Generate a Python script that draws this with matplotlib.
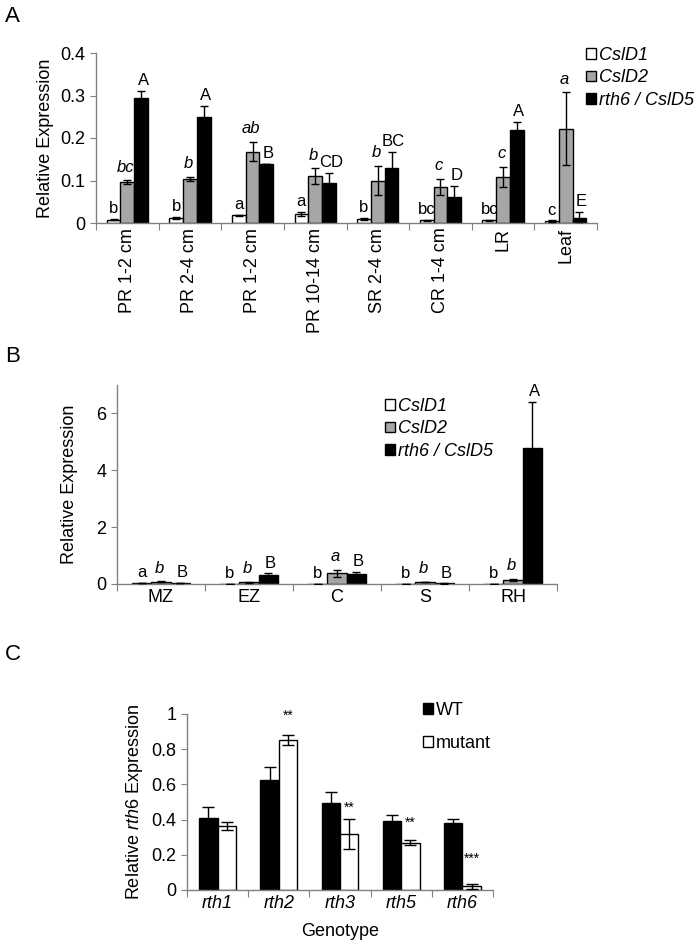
import matplotlib
matplotlib.use("Agg")
import matplotlib.pyplot as plt
import numpy as np
from matplotlib.patches import Patch

plt.rcParams['font.family'] = ['Liberation Sans', 'DejaVu Sans']
plt.rcParams['font.size'] = 13
plt.rcParams['mathtext.fontset'] = 'custom'
plt.rcParams['mathtext.rm'] = 'Liberation Sans'
plt.rcParams['mathtext.it'] = 'Liberation Sans:italic'

# panel A data
a_cats = ["PR 1-2 cm", "PR 2-4 cm", "PR 1-2 cm", "PR 10-14 cm", "SR 2-4 cm", "CR 1-4 cm", "LR", "Leaf"]
a_d1 = [0.008, 0.012, 0.018, 0.022, 0.010, 0.006, 0.006, 0.004]
a_d1_err = [0.002, 0.002, 0.001, 0.005, 0.002, 0.001, 0.002, 0.002]
a_d2 = [0.096, 0.104, 0.168, 0.110, 0.100, 0.085, 0.108, 0.222]
a_d2_err = [0.005, 0.005, 0.023, 0.019, 0.035, 0.019, 0.024, 0.086]
a_d5 = [0.295, 0.250, 0.140, 0.095, 0.130, 0.061, 0.218, 0.012]
a_d5_err = [0.015, 0.025, 0.0, 0.022, 0.038, 0.026, 0.019, 0.014]
a_d1_lbl = ["b", "b", "a", "a", "b", "bc", "bc", "c"]
a_d2_lbl = ["bc", "b", "ab", "b", "b", "c", "c", "a"]
a_d5_lbl = ["A", "A", "B", "CD", "BC", "D", "A", "E"]

# panel B data
b_cats = ["MZ", "EZ", "C", "S", "RH"]
b_d1 = [0.03, 0.01, 0.01, 0.01, 0.01]
b_d1_err = [0.005, 0.003, 0.003, 0.003, 0.003]
b_d2 = [0.08, 0.06, 0.37, 0.07, 0.14]
b_d2_err = [0.02, 0.01, 0.13, 0.01, 0.05]
b_d5 = [0.03, 0.30, 0.34, 0.02, 4.8]
b_d5_err = [0.01, 0.07, 0.09, 0.005, 1.6]
b_d1_lbl = ["a", "b", "b", "b", "b"]
b_d2_lbl = ["b", "b", "a", "b", "b"]
b_d5_lbl = ["B", "B", "B", "B", "A"]

# panel C data
c_cats = ["rth1", "rth2", "rth3", "rth5", "rth6"]
c_wt = [0.41, 0.625, 0.494, 0.39, 0.379]
c_wt_err = [0.063, 0.074, 0.063, 0.036, 0.026]
c_mut = [0.364, 0.852, 0.318, 0.269, 0.021]
c_mut_err = [0.022, 0.028, 0.087, 0.015, 0.015]
c_stars = ["", "**", "**", "**", "***"]
c_star_y = [0, 0.95, 0.43, 0.34, 0.14]

GRAY = '#a6a6a6'
AXC = '#808080'

fig = plt.figure(figsize=(6.97, 9.5), dpi=100)


def style_axes(ax, n, ylim, yticks, yfmt):
    for s in ['top', 'right']:
        ax.spines[s].set_visible(False)
    for s in ['left', 'bottom']:
        ax.spines[s].set_color(AXC)
        ax.spines[s].set_linewidth(1)
    ax.set_xlim(0, n)
    ax.set_ylim(*ylim)
    ax.set_yticks(yticks)
    ax.set_yticklabels([yfmt(v) for v in yticks])
    ax.set_xticks(np.arange(n + 1))
    ax.set_xticklabels([])
    ax.tick_params(axis='x', which='major', length=5, color=AXC, direction='out')
    ax.tick_params(axis='y', length=4, color=AXC, labelsize=13)
    ax.set_xticks(np.arange(n) + 0.5, minor=True)
    ax.tick_params(axis='x', which='minor', length=0, labelsize=13)


def bars3(ax, x, vals, errs, lbls, w, cap):
    colors = ['white', GRAY, 'black']
    styles = ['normal', 'italic', 'normal']
    offs = [(0, 2), (-1, 4), (1.5, 2)]
    for k in range(3):
        xs = x + (k - 1) * w
        ax.bar(xs, vals[k], w, color=colors[k], edgecolor='black', linewidth=1, zorder=2)
        ax.errorbar(xs, vals[k], yerr=errs[k], fmt='none', ecolor='black',
                    elinewidth=1, capsize=cap, capthick=1, zorder=3)
        for xi, v, e, t in zip(xs, vals[k], errs[k], lbls[k]):
            ax.annotate(t, (xi, v + e), xytext=offs[k], textcoords='offset points',
                        ha='center', va='bottom', fontsize=12, fontstyle=styles[k])


def legend3(anchor, labels, colors):
    handles = [Patch(facecolor=c, edgecolor='black', linewidth=1) for c in colors]
    leg = fig.legend(handles, labels, loc='upper left', bbox_to_anchor=anchor,
                     frameon=False, handlelength=0.55, handleheight=0.55,
                     handletextpad=0.15, labelspacing=0.3, borderpad=0, borderaxespad=0,
                     fontsize=13)
    for t in leg.get_texts():
        t.set_fontstyle('italic')
    return leg


# ---- A ----
axA = fig.add_axes([96 / 697, 1 - 223 / 950, 501 / 697, 170 / 950])
style_axes(axA, 8, (0, 0.4), [0, 0.1, 0.2, 0.3, 0.4], lambda v: '0' if v == 0 else f'{v:.1f}')
axA.set_xticklabels(a_cats, minor=True, rotation=90)
xa = np.arange(8) + 0.5
bars3(axA, xa, [a_d1, a_d2, a_d5], [a_d1_err, a_d2_err, a_d5_err],
      [a_d1_lbl, a_d2_lbl, a_d5_lbl], 0.22, 3)
axA.set_ylabel('Relative Expression', fontsize=13, labelpad=5)
legend3((586 / 697, 1 - 47 / 950), ['CslD1', 'CslD2', 'rth6 / CslD5'], ['white', GRAY, 'black'])

# ---- B ----
axB = fig.add_axes([117 / 697, 1 - 584 / 950, 440 / 697, 199 / 950])
style_axes(axB, 5, (0, 7), [0, 2, 4, 6], lambda v: f'{v:d}')
axB.set_xticklabels(b_cats, minor=True)
xb = np.arange(5) + 0.5
bars3(axB, xb, [b_d1, b_d2, b_d5], [b_d1_err, b_d2_err, b_d5_err],
      [b_d1_lbl, b_d2_lbl, b_d5_lbl], 0.22, 3)
axB.set_ylabel('Relative Expression', fontsize=13, labelpad=13)
legend3((385 / 697, 1 - 398 / 950), ['CslD1', 'CslD2', 'rth6 / CslD5'], ['white', GRAY, 'black'])

# ---- C ----
axC = fig.add_axes([187 / 697, 1 - 890 / 950, 306 / 697, 176 / 950])
style_axes(axC, 5, (0, 1), [0, 0.2, 0.4, 0.6, 0.8, 1.0],
           lambda v: '0' if v == 0 else ('1' if v == 1 else f'{v:.1f}'))
axC.set_xticklabels(c_cats, minor=True, fontstyle='italic')
xc = np.arange(5) + 0.5
w = 0.3
axC.bar(xc - w / 2, c_wt, w, color='black', edgecolor='black', linewidth=1, zorder=2)
axC.bar(xc + w / 2, c_mut, w, color='white', edgecolor='black', linewidth=1, zorder=2)
axC.errorbar(xc - w / 2, c_wt, yerr=c_wt_err, fmt='none', ecolor='black',
             elinewidth=1, capsize=4.5, capthick=1, zorder=3)
axC.errorbar(xc + w / 2, c_mut, yerr=c_mut_err, fmt='none', ecolor='black',
             elinewidth=1, capsize=4.5, capthick=1, zorder=3)
for xi, s, sy in zip(xc + w / 2, c_stars, c_star_y):
    if s:
        axC.text(xi, sy, s, ha='center', va='bottom', fontsize=10)
axC.set_ylabel(r'Relative $\it{rth6}$ Expression', fontsize=13, labelpad=5)
axC.set_xlabel('Genotype', fontsize=13, labelpad=8)
handles = [Patch(facecolor='black', edgecolor='black'), Patch(facecolor='white', edgecolor='black')]
fig.legend(handles, ['WT', 'mutant'], loc='upper left', bbox_to_anchor=(423 / 697, 1 - 702 / 950),
           frameon=False, handlelength=0.55, handleheight=0.55, handletextpad=0.15,
           labelspacing=0.9, borderpad=0, borderaxespad=0, fontsize=13)

# panel letters
fig.text(5 / 697, 1 - 17 / 950, 'A', fontsize=16, va='center')
fig.text(5 / 697, 1 - 357 / 950, 'B', fontsize=16, va='center')
fig.text(5 / 697, 1 - 655 / 950, 'C', fontsize=16, va='center')

fig.savefig('out.png', dpi=100)
